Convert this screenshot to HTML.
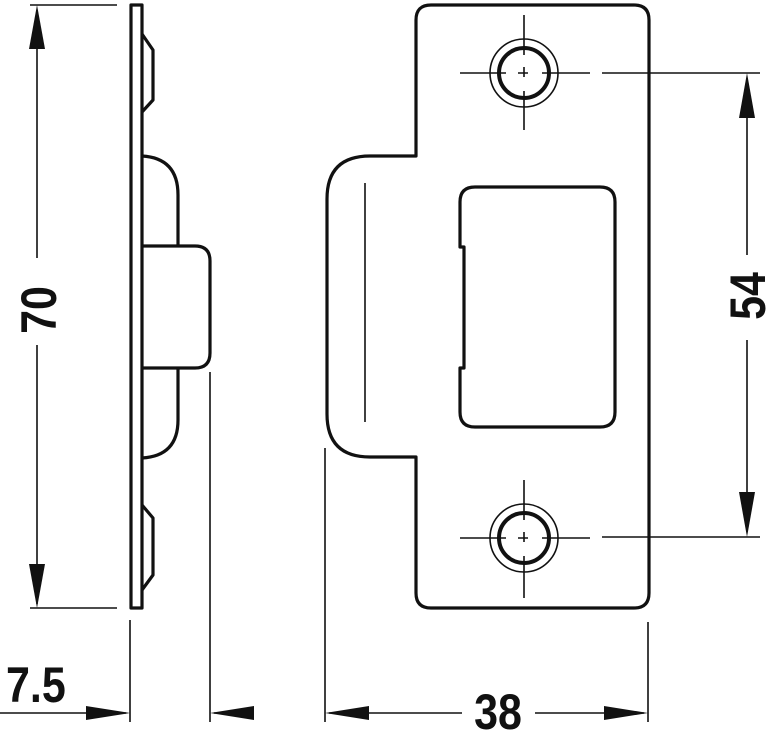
<!DOCTYPE html>
<html><head><meta charset="utf-8"><style>
html,body{margin:0;padding:0;background:#fff;}
svg{display:block;}
text{font-family:"Liberation Sans",sans-serif;font-weight:bold;font-size:50px;fill:#111;}
</style></head><body>
<svg width="769" height="730" viewBox="0 0 769 730" xmlns="http://www.w3.org/2000/svg">
<g fill="none" stroke="#111" stroke-width="3.2" stroke-linejoin="round">
  <rect x="131" y="5" width="11" height="603"/>
  <path d="M142 34 L153 50 L153 100 L142 112"/>
  <path d="M142 505 L153 518 L153 575 L142 590"/>
  <path d="M142 156 Q178 158 178 195 L178 246"/>
  <path d="M142 246 L195 246 Q210 246 210 261 L210 353 Q210 368 195 368 L142 368"/>
  <path d="M178 368 L178 420 Q178 456 142 458"/>
  <path d="M416 156 L416 20 Q416 5 431 5 L634 5 Q649 5 649 20 L649 593 Q649 608 634 608 L431 608 Q416 608 416 593 L416 457 L370 457 Q327 457 327 414 L327 199 Q327 156 370 156 Z"/>
  <path d="M475 187 L600 187 Q615 187 615 202 L615 412 Q615 427 600 427 L475 427 Q460 427 460 412 L460 368 L464 368 L464 247 L460 247 L460 202 Q460 187 475 187 Z"/>
  <circle cx="524" cy="73" r="25" stroke-width="4"/>
  <circle cx="524" cy="538" r="25" stroke-width="4"/>
</g>
<g fill="none" stroke="#111" stroke-width="1.6">
  <line x1="365" y1="183" x2="365" y2="422"/>
  <circle cx="524" cy="73" r="34"/>
  <circle cx="524" cy="538" r="34"/>
  <path d="M460 73 H506 M518 73 H528 M542 73 H590 M524 15 V55 M524 67 V77 M524 91 V130"/>
  <path d="M460 538 H506 M518 538 H528 M542 538 H590 M524 480 V520 M524 532 V542 M524 556 V598"/>
  <path d="M30 5 H117 M30 608 H117"/>
  <path d="M602 73 H760 M602 537 H760"/>
  <path d="M130 620 V722 M210 372 V722 M325 448 V722 M648 622 V722"/>
  <path d="M37 10 V258 M37 345 V604"/>
  <path d="M747 78 V255 M747 340 V532"/>
  <path d="M0 713 H126 M214 713 H250 M329 713 H462 M535 713 H644"/>
</g>
<g fill="#111">
  <polygon points="37,5 29,49 45,49"/>
  <polygon points="37,608 29,564 45,564"/>
  <polygon points="747,73 739,118 755,118"/>
  <polygon points="747,537 739,492 755,492"/>
  <polygon points="130,713 86,706 86,720"/>
  <polygon points="210,713 254,706 254,720"/>
  <polygon points="325,713 369,706 369,720"/>
  <polygon points="648,713 604,706 604,720"/>
</g>
<text x="0" y="0" text-anchor="middle" transform="translate(56,310) rotate(-90) scale(0.86,1)">70</text>
<text x="0" y="0" text-anchor="middle" transform="translate(765,296) rotate(-90) scale(0.86,1)">54</text>
<text x="0" y="0" transform="translate(6,702) scale(0.86,1)">7.5</text>
<text x="0" y="0" text-anchor="middle" transform="translate(498,729) scale(0.86,1)">38</text>
</svg>
</body></html>
